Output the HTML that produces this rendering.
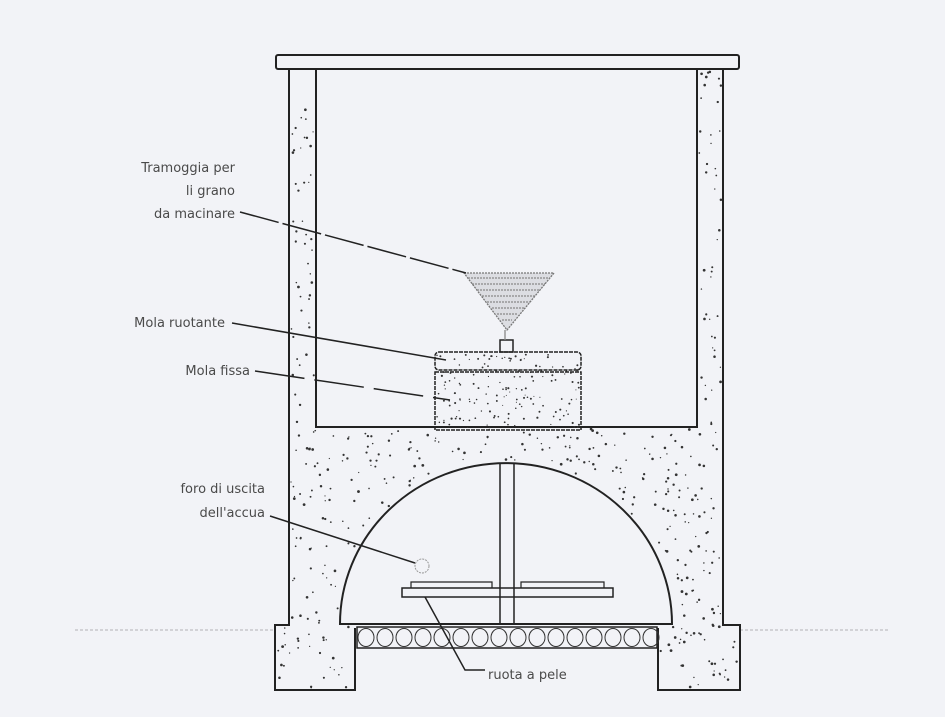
<!DOCTYPE html>
<html><head><meta charset="utf-8"><style>
html,body{margin:0;padding:0;background:#f2f3f7;}
svg{display:block}
text{font-family:"DejaVu Sans","Liberation Sans",sans-serif;font-size:13px;fill:#4a4a4a;}
</style></head><body>
<svg id="s" width="945" height="717" viewBox="0 0 945 717" xmlns="http://www.w3.org/2000/svg">
<rect width="945" height="717" fill="#f2f3f7"/>
<g stroke="#c8c8cc" stroke-width="1.5" stroke-dasharray="3 2">
<line x1="75" y1="630" x2="275" y2="630"/><line x1="740" y1="630" x2="890" y2="630"/>
</g>
<g fill="none" stroke="#222" stroke-width="2">
<rect x="276" y="55" width="463" height="14" rx="2"/>
<path d="M289 69 V625 H275 V690 H355 V628 M658 628 V690 H740 V625 H723 V69"/>
<rect x="316" y="69" width="381" height="358"/>
<path d="M340 624 A166 161 0 0 1 672 624 Z"/>
<line x1="500" y1="463" x2="500" y2="624" stroke-width="1.5"/>
<line x1="514" y1="463" x2="514" y2="624" stroke-width="1.5"/>
<rect x="357" y="627" width="300" height="21" stroke-width="1.5"/>
<rect x="402" y="588" width="211" height="9" stroke-width="1.5"/>
<path d="M411 588 V582 H492 V588 M521 588 V582 H604 V588" stroke-width="1.2"/>
<rect x="435" y="352" width="146" height="18" rx="4" stroke-width="1.5" stroke-dasharray="4 1"/>
<rect x="435" y="372" width="146" height="58" stroke-width="1.5" stroke-dasharray="4 1"/>
<rect x="500" y="340" width="13" height="12" stroke-width="1.5"/>
<circle cx="422" cy="566" r="7" stroke="#999" stroke-width="1" stroke-dasharray="2 1"/>
</g>
<g fill="none" stroke-width="1.3">
<path d="M464 273 H554 L507 330 Z" fill="#dcdde2" stroke="#777" stroke-dasharray="2 1"/>
<line x1="468" y1="278" x2="550" y2="278" stroke="#888" stroke-dasharray="2 1"/>
<line x1="472" y1="284" x2="545" y2="284" stroke="#888" stroke-dasharray="2 1"/>
<line x1="477" y1="290" x2="540" y2="290" stroke="#888" stroke-dasharray="2 1"/>
<line x1="482" y1="296" x2="535" y2="296" stroke="#888" stroke-dasharray="2 1"/>
<line x1="487" y1="302" x2="530" y2="302" stroke="#888" stroke-dasharray="2 1"/>
<line x1="492" y1="308" x2="524" y2="308" stroke="#888" stroke-dasharray="2 1"/>
<line x1="497" y1="314" x2="518" y2="314" stroke="#888" stroke-dasharray="2 1"/>
<line x1="502" y1="320" x2="512" y2="320" stroke="#888" stroke-dasharray="2 1"/>
<line x1="505" y1="330" x2="505" y2="340" stroke="#888"/>
</g>
<g id="gravel" fill="none" stroke="#333" stroke-width="1"></g>
<g id="dots" fill="#333"></g>
<g fill="none" stroke="#222" stroke-width="1.5">
<path d="M240 212 L466 273" stroke-dasharray="40 4"/>
<path d="M232 323 L446 360"/>
<path d="M255 371 L450 400" stroke-dasharray="50 10"/>
<path d="M270 516 L415 563"/>
<path d="M425 597 L465 670 H485"/>
</g>
<text x="235" y="172" text-anchor="end">Tramoggia per</text>
<text x="235" y="195" text-anchor="end">li grano</text>
<text x="235" y="218" text-anchor="end">da macinare</text>
<text x="225" y="327" text-anchor="end">Mola ruotante</text>
<text x="250" y="375" text-anchor="end">Mola fissa</text>
<text x="265" y="493" text-anchor="end">foro di uscita</text>
<text x="265" y="517" text-anchor="end">dell'accua</text>
<text x="488" y="679">ruota a pele</text>
</svg>
<script>
var ns="http://www.w3.org/2000/svg";
var d=document.getElementById("dots"),seed=7;
function r(){seed=(seed*16807)%2147483647;return seed/2147483647;}
function inConcrete(x,y){
 if(x>291&&x<314&&y>71&&y<427)return true;
 if(x>699&&x<721&&y>71&&y<427)return true;
 if(x>291&&x<721&&y>429&&y<624){var dx=(x-506)/166,dy=(y-624)/161;if(dx*dx+dy*dy>1.03)return true;}
 if(x>277&&x<353&&y>624&&y<688)return true;
 if(x>660&&x<738&&y>624&&y<688)return true;
 return false;}
for(var i=0;i<9000&&d.childNodes.length<420;i++){var x=275+r()*465,y=70+r()*620;if(inConcrete(x,y)){var c=document.createElementNS(ns,"circle");c.setAttribute("cx",x);c.setAttribute("cy",y);c.setAttribute("r",0.6+r()*0.8);d.appendChild(c);}}
for(i=0;i<160;i++){var x=437+r()*142,y=354+r()*74;var c=document.createElementNS(ns,"circle");c.setAttribute("cx",x);c.setAttribute("cy",y);c.setAttribute("r",0.5+r()*0.6);d.appendChild(c);}
var g=document.getElementById("gravel");
for(var x=366;x<652;x+=19){var e=document.createElementNS(ns,"ellipse");e.setAttribute("cx",x);e.setAttribute("cy",637.5);e.setAttribute("rx",8);e.setAttribute("ry",9);g.appendChild(e);}
</script>
</body></html>
